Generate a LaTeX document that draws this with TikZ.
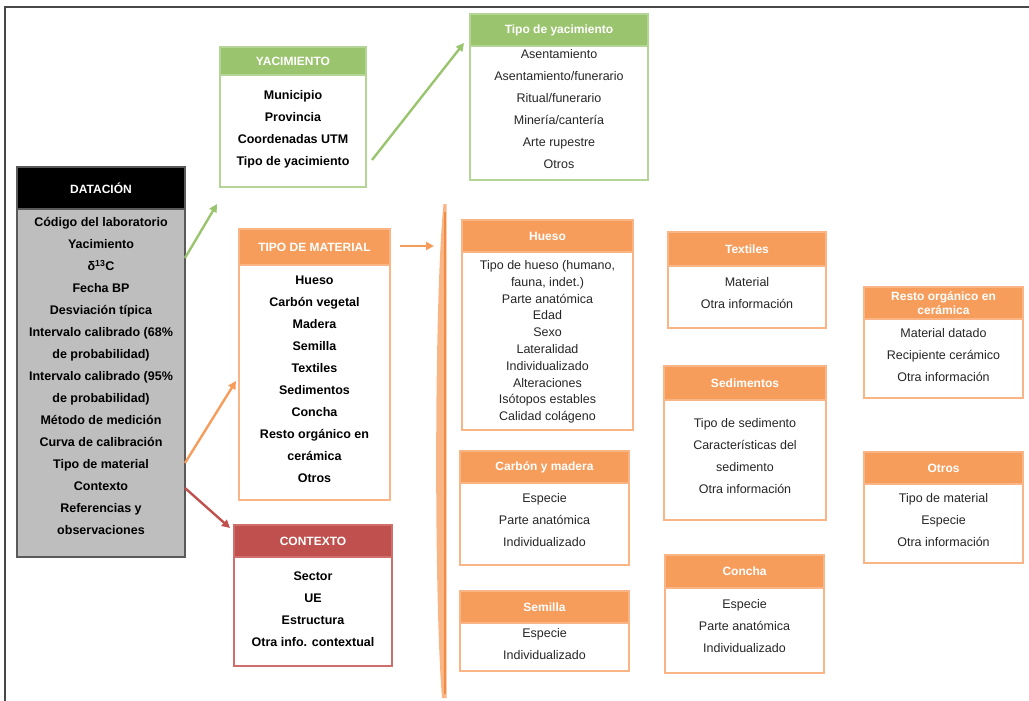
\documentclass[tikz,border=0pt]{standalone}
\usepackage{fontspec}
\setmainfont{Liberation Sans}
\usetikzlibrary{arrows.meta}
\definecolor{orH}{HTML}{F79D5C}
\definecolor{orB}{HTML}{F9B586}
\definecolor{grH}{HTML}{9BC46E}
\definecolor{grB}{HTML}{B5D596}
\definecolor{rdH}{HTML}{C0504D}
\definecolor{rdB}{HTML}{CF6E6B}
\definecolor{gyB}{HTML}{BEBEBE}
\definecolor{gyL}{HTML}{5A5A5A}
\definecolor{txt}{HTML}{262626}
\definecolor{brL}{HTML}{F9B584}
\definecolor{brD}{HTML}{F28C45}
\tikzset{
  boxbase/.style={rectangle, inner sep=0pt, outer sep=0pt, line width=1.1pt},
  hdr/.style={boxbase, text=white, font=\fontsize{12}{14}\selectfont\bfseries, align=center},
  orhdr/.style={hdr, fill=orH, draw=orB},
  orbody/.style={boxbase, fill=white, draw=orB},
  grhdr/.style={hdr, fill=grH, draw=grB},
  grbody/.style={boxbase, fill=white, draw=grB},
  rdhdr/.style={hdr, fill=rdH, draw=rdB},
  rdbody/.style={boxbase, fill=white, draw=rdB},
  list/.style={anchor=base, inner sep=0pt, align=center, text=txt, font=\fontsize{12.5}{22}\selectfont},
  blist/.style={anchor=base, inner sep=0pt, align=center, text=black, font=\fontsize{12.5}{22}\selectfont\bfseries},
  tlist/.style={anchor=base, inner sep=0pt, align=center, text=txt, font=\fontsize{12.5}{16.8}\selectfont},
  arr/.style={line width=2.4pt, -{Triangle[length=8pt,width=8pt]}, shorten <=0pt},
}
\begin{document}
\begin{tikzpicture}[x=1pt,y=-1pt]
\useasboundingbox (0,0) rectangle (1029,701);
% outer frame
\draw[gyL!80!black, line width=1.6pt] (5,701) -- (5,7) -- (1029,7);

% DATACION
\node[boxbase, fill=black, draw=gyL, minimum width=168, minimum height=42, text=white, font=\fontsize{12}{14}\selectfont\bfseries] (dath) at (101,188) {DATACIÓN};
\node[boxbase, fill=gyB, draw=gyL, minimum width=168, minimum height=348] (datb) at (101,383) {};
\node[blist] (datl) at (101,534.5) {Código del laboratorio\\Yacimiento\\δ\textsuperscript{13}C\\Fecha BP\\Desviación típica\\Intervalo calibrado (68\%\\de probabilidad)\\Intervalo calibrado (95\%\\de probabilidad)\\Método de medición\\Curva de calibración\\Tipo de material\\Contexto\\Referencias y\\observaciones};

% YACIMIENTO
\node[grhdr, minimum width=146, minimum height=28] (yach) at (293,61) {YACIMIENTO};
\node[grbody, minimum width=146, minimum height=112] (yacb) at (293,131) {};
\node[blist] (yacl) at (293,165.5) {Municipio\\Provincia\\Coordenadas UTM\\Tipo de yacimiento};

% Tipo de yacimiento
\node[grhdr, minimum width=178, minimum height=32] (tyh) at (559,30) {Tipo de yacimiento};
\node[grbody, minimum width=178, minimum height=134] (tyb) at (559,113) {};
\node[list] (tyl) at (559,168.5) {Asentamiento\\Asentamiento/funerario\\Ritual/funerario\\Minería/cantería\\Arte rupestre\\Otros};

% TIPO DE MATERIAL
\node[orhdr, minimum width=151, minimum height=36] (tmh) at (314.5,247) {TIPO DE MATERIAL};
\node[orbody, minimum width=151, minimum height=235] (tmb) at (314.5,382.5) {};
\node[blist] (tml) at (314.5,482.5) {Hueso\\Carbón vegetal\\Madera\\Semilla\\Textiles\\Sedimentos\\Concha\\Resto orgánico en\\cerámica\\Otros};

% CONTEXTO
\node[rdhdr, minimum width=158, minimum height=32] (ctxh) at (313,541) {CONTEXTO};
\node[rdbody, minimum width=158, minimum height=109] (ctxb) at (313,611.5) {};
\node[blist] (ctxl) at (313,646.5) {Sector\\UE\\Estructura\\Otra info. contextual};

% bracket
\fill[brL] (443.5,204) .. controls (434,300) and (434,600) .. (442,698) -- (446.5,698) -- (446.5,204) -- cycle;
\draw[brD, line width=1.4pt] (444.8,212) -- (444.8,694);

% Hueso
\node[orhdr, minimum width=171, minimum height=32] (huh) at (547.5,236) {Hueso};
\node[orbody, minimum width=171, minimum height=178] (hub) at (547.5,341) {};
\node[tlist] (hul) at (547.5,420.7) {Tipo de hueso (humano,\\fauna, indet.)\\Parte anatómica\\Edad\\Sexo\\Lateralidad\\Individualizado\\Alteraciones\\Isótopos estables\\Calidad colágeno};

% Carbon y madera
\node[orhdr, minimum width=169, minimum height=32] (cmh) at (544.5,467) {Carbón y madera};
\node[orbody, minimum width=169, minimum height=82] (cmb) at (544.5,524) {};
\node[list] (cml) at (544.5,546.5) {Especie\\Parte anatómica\\Individualizado};

% Semilla
\node[orhdr, minimum width=169, minimum height=32] (seh) at (544.5,607) {Semilla};
\node[orbody, minimum width=169, minimum height=48] (seb) at (544.5,647) {};
\node[list] (sel) at (544.5,659.5) {Especie\\Individualizado};

% Textiles
\node[orhdr, minimum width=158, minimum height=34] (txh) at (747,249) {Textiles};
\node[orbody, minimum width=158, minimum height=62] (txb) at (747,297) {};
\node[list] (txl) at (747,308.5) {Material\\Otra información};

% Sedimentos
\node[orhdr, minimum width=162, minimum height=34] (sdh) at (745,383) {Sedimentos};
\node[orbody, minimum width=162, minimum height=120] (sdb) at (745,460) {};
\node[list] (sdl) at (745,493.5) {Tipo de sedimento\\Características del\\sedimento\\Otra información};

% Concha
\node[orhdr, minimum width=159, minimum height=33] (coh) at (744.5,571.5) {Concha};
\node[orbody, minimum width=159, minimum height=85] (cob) at (744.5,630.5) {};
\node[list] (col) at (744.5,652.5) {Especie\\Parte anatómica\\Individualizado};

% Resto organico en ceramica
\node[orhdr, minimum width=159, minimum height=32, font=\fontsize{12}{14}\selectfont\bfseries] (roh) at (943.5,303) {Resto orgánico en\\cerámica};
\node[orbody, minimum width=159, minimum height=79] (rob) at (943.5,358.5) {};
\node[list] (rol) at (943.5,381.5) {Material datado\\Recipiente cerámico\\Otra información};

% Otros
\node[orhdr, minimum width=159, minimum height=32] (oth) at (943.5,468) {Otros};
\node[orbody, minimum width=159, minimum height=79] (otb) at (943.5,523.5) {};
\node[list] (otl) at (943.5,546.5) {Tipo de material\\Especie\\Otra información};

% arrows
\coordinate (a1s) at (185,258);
\coordinate (a1e) at (217,204);
\coordinate (a2s) at (372,160);
\coordinate (a2e) at (464,43);
\coordinate (a3s) at (185,463);
\coordinate (a3e) at (236,381);
\coordinate (a4s) at (400,246);
\coordinate (a4e) at (434,246);
\coordinate (a5s) at (185,488);
\coordinate (a5e) at (230,528);
\draw[arr, draw=grH, fill=grH] (a1s) -- (a1e);
\draw[arr, draw=grH, fill=grH] (a2s) -- (a2e);
\draw[arr, draw=orH, fill=orH] (a3s) -- (a3e);
\draw[arr, draw=orH, fill=orH] (a4s) -- (a4e);
\draw[arr, draw=rdH, fill=rdH] (a5s) -- (a5e);
\end{tikzpicture}
\end{document}
